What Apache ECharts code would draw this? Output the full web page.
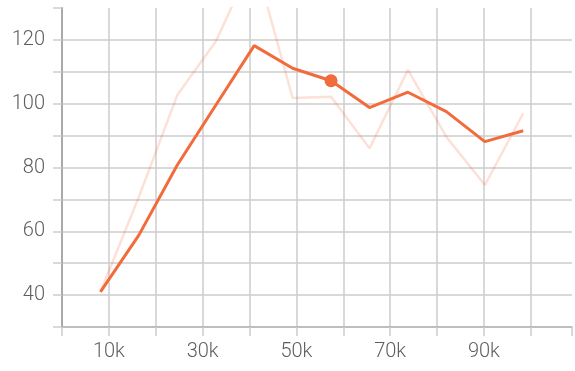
<!DOCTYPE html>
<html>
<head>
<meta charset="utf-8">
<script src="https://cdn.jsdelivr.net/npm/echarts@6/dist/echarts.min.js"></script>
<style>
  html, body { margin: 0; padding: 0; background: #ffffff; }
  #chart { width: 575px; height: 371px; }
</style>
</head>
<body>
<div id="chart"></div>
<script>
// x positions (raw units)
var xValues = [8200, 16400, 24600, 32800, 41000, 49200, 57400, 65600, 73800, 82000, 90200, 98400];
// main (bold) series
var mainValues = [41, 58.8, 80.8, 99.5, 118.2, 111.1, 107.2, 98.8, 103.6, 97.5, 88.1, 91.5];
// faint background series
var faintValues = [41, 70.8, 102.7, 119.5, 145.5, 101.8, 102.2, 86, 110.6, 89.6, 74.5, 97];
// highlighted point index
var highlightIndex = 6;
// tick labels shown
var xLabelTicks = [10000, 30000, 50000, 70000, 90000];
var yLabelTicks = [40, 60, 80, 100, 120];

function pairs(xs, ys) {
  return xs.map(function (x, i) { return [x, ys[i]]; });
}

var gridColor = '#cdcdcd';
var axisColor = '#a9a9a9';
var labelStyle = { color: '#5e5e5e', fontSize: 20, fontFamily: 'Roboto', fontWeight: 300 };

var chart = echarts.init(document.getElementById('chart'), null, { renderer: 'canvas' });
chart.setOption({
  animation: false,
  backgroundColor: '#ffffff',
  grid: { left: 62, right: 0, top: 8, bottom: 44, containLabel: false },
  xAxis: {
    type: 'value',
    min: 0, max: 108800, interval: 10000,
    axisLine: { show: true, lineStyle: { color: axisColor, width: 1.5 } },
    axisTick: { show: true, length: 9, lineStyle: { color: gridColor, width: 1.5 } },
    axisLabel: Object.assign({
      margin: 15,
      formatter: function (v) { return xLabelTicks.indexOf(v) >= 0 ? (v / 1000) + 'k' : ''; }
    }, labelStyle),
    splitLine: { show: true, showMinLine: false, showMaxLine: false, lineStyle: { color: gridColor, width: 1.5 } }
  },
  yAxis: {
    type: 'value',
    min: 30, max: 130, interval: 10,
    axisLine: { show: true, lineStyle: { color: axisColor, width: 2 } },
    axisTick: { show: true, length: 9, lineStyle: { color: gridColor, width: 1.5 } },
    axisLabel: Object.assign({
      margin: 17,
      formatter: function (v) { return yLabelTicks.indexOf(v) >= 0 ? String(v) : ''; }
    }, labelStyle),
    splitLine: { show: true, showMinLine: false, showMaxLine: false, lineStyle: { color: gridColor, width: 1.5 } }
  },
  series: [
    {
      type: 'line',
      data: pairs(xValues, faintValues),
      showSymbol: false,
      symbol: 'none',
      lineStyle: { color: '#f26b3b', width: 2.5, opacity: 0.2 },
      itemStyle: { color: '#f26b3b' },
      z: 2
    },
    {
      type: 'line',
      data: pairs(xValues, mainValues),
      showSymbol: false,
      symbol: 'none',
      lineStyle: { color: '#f26b3b', width: 3 },
      itemStyle: { color: '#f26b3b' },
      z: 3
    },
    {
      type: 'scatter',
      data: [[xValues[highlightIndex], mainValues[highlightIndex]]],
      symbol: 'circle',
      symbolSize: 13,
      itemStyle: { color: '#f26b3b', opacity: 1 },
      z: 4
    }
  ]
});
</script>
</body>
</html>
